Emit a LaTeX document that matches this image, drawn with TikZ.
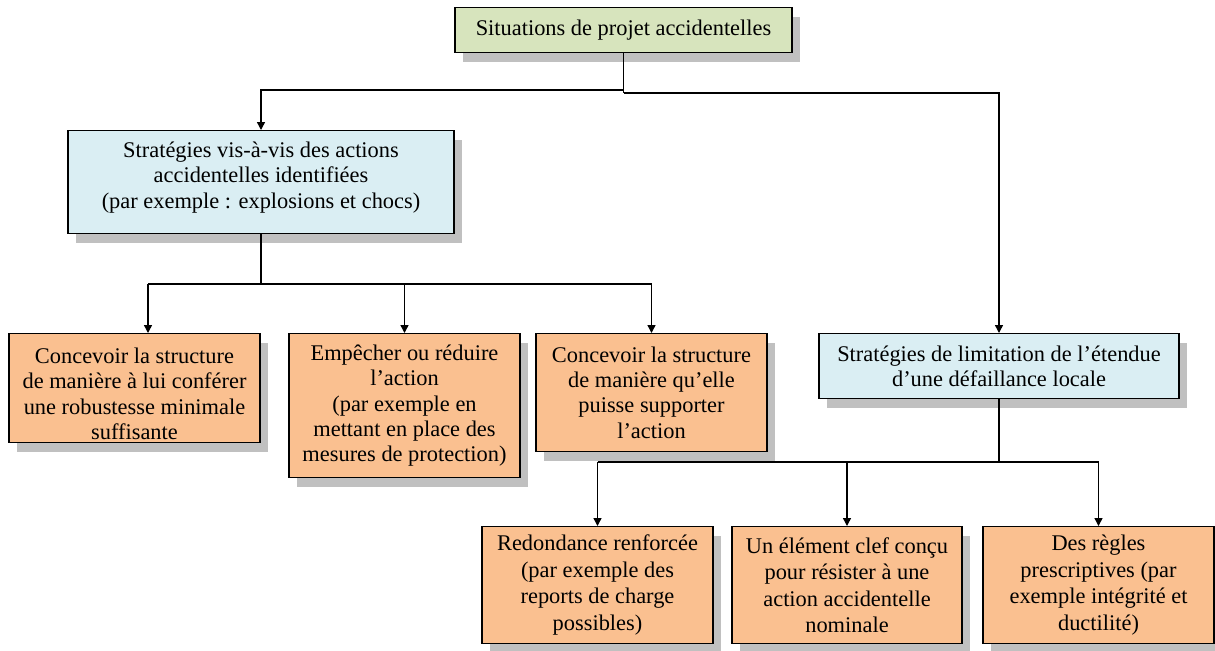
\documentclass[tikz,border=0pt]{standalone}
\usepackage{fontspec}
\setmainfont{Liberation Serif}
\usetikzlibrary{arrows.meta,shadows}

\newlength{\du}
\setlength{\du}{0.5pt}

\definecolor{greenfill}{HTML}{D7E4BD}
\definecolor{bluefill}{HTML}{DAEEF3}
\definecolor{orangefill}{HTML}{FAC090}
\definecolor{shadowgray}{HTML}{C0C0C0}

\begin{document}
\begin{tikzpicture}[x=\du, y=-\du,
  box/.style={draw=black, line width=0.65pt, align=center, inner sep=0pt, anchor=north,
    font=\fontsize{11.2}{12.6}\selectfont,
    drop shadow={shadow xshift=8\du, shadow yshift=-9\du, fill=shadowgray, opacity=1}},
  topbox/.style={box, fill=greenfill},
  bluebox/.style={box, fill=bluefill},
  orangebox/.style={box, fill=orangefill},
  lowbox/.style={orangebox, font=\fontsize{11.2}{13.3}\selectfont,
    minimum width=231\du, minimum height=117\du},
  link/.style={line width=0.7pt},
  arrow/.style={link, -{Triangle[length=4pt, width=4pt]}}]
\useasboundingbox (0,0) rectangle (1215,650);

% boxes
\node[topbox, minimum width=337\du, minimum height=45\du] (situ) at (623.5,7)
  {Situations de projet accidentelles};
\node[bluebox, minimum width=386\du, minimum height=103\du, text depth=7pt] (ident) at (261,130)
  {Stratégies vis-à-vis des actions\\accidentelles identifiées\\(par exemple : explosions et chocs)};
\node[orangebox, minimum width=251\du, minimum height=109\du] (robust) at (134.5,333)
  {\rule{0pt}{13.5pt}Concevoir la structure\\de manière à lui conférer\\une robustesse minimale\\suffisante};
\node[orangebox, minimum width=231\du, minimum height=144\du] (prevent) at (404.5,333)
  {Empêcher ou réduire\\l’action\\(par exemple en\\mettant en place des\\mesures de protection)};
\node[orangebox, minimum width=231\du, minimum height=118\du] (resist) at (651.5,333)
  {Concevoir la structure\\de manière qu’elle\\puisse supporter\\l’action};
\node[bluebox, minimum width=360\du, minimum height=65\du] (limit) at (999,333)
  {Stratégies de limitation de l’étendue\\d’une défaillance locale};
\node[lowbox] (redund) at (597.5,526)
  {Redondance renforcée\\(par exemple des\\reports de charge\\possibles)};
\node[lowbox, minimum width=230\du] (keyel) at (847,526)
  {Un élément clef conçu\\pour résister à une\\action accidentelle\\nominale};
\node[lowbox] (rules) at (1098.5,526)
  {Des règles\\prescriptives (par\\exemple intégrité et\\ductilité)};

% connectors
\coordinate (splitL) at (623.5,90);
\coordinate (splitR) at (623.5,93);
\draw[link] (situ.south) -- (splitR);
\draw[arrow] (splitL) -| (ident.north);
\draw[arrow] (splitR) -| (limit.north);

\coordinate (busA) at (148,284);
\draw[link, line width=1.1pt] (ident.south) -- (ident.south |- busA);
\draw[arrow] (busA) -| (resist.north);
\draw[arrow] (busA) -- (busA |- robust.north);
\draw[arrow] (prevent.north |- busA) -- (prevent.north);

\coordinate (busB) at (597.5,462);
\draw[link] (limit.south) -- (limit.south |- busB);
\draw[arrow] (busB) -| (rules.north);
\draw[arrow] (busB) -- (redund.north);
\draw[arrow] (keyel.north |- busB) -- (keyel.north);
\end{tikzpicture}
\end{document}
